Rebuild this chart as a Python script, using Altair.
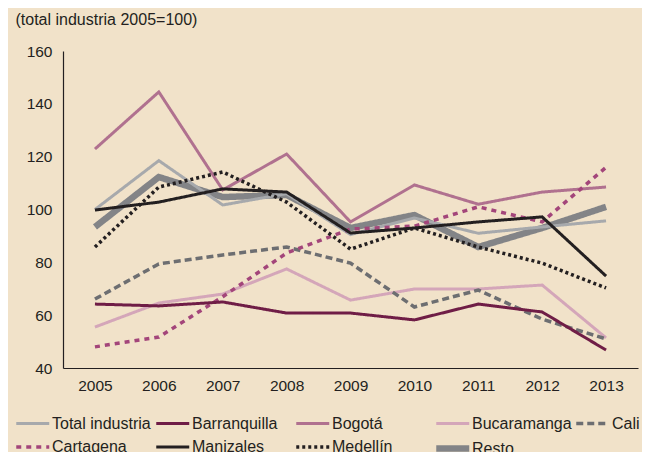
import altair as alt
import pandas as pd

years = ["2005", "2006", "2007", "2008", "2009", "2010", "2011", "2012", "2013"]

total_industria = [100.0, 118.5, 101.7, 106.0, 90.5, 96.8, 91.0, 93.4, 95.7]
barranquilla = [64.2, 63.5, 65.0, 60.8, 60.8, 58.2, 64.2, 61.2, 46.8]
bogota = [122.9, 144.5, 107.4, 121.0, 95.3, 109.3, 102.0, 106.6, 108.5]
bucaramanga = [55.5, 64.6, 68.0, 77.5, 65.7, 69.9, 69.9, 71.4, 51.4]
cali = [66.1, 79.4, 82.8, 85.8, 79.7, 63.1, 69.5, 58.5, 51.0]
cartagena = [48.0, 51.7, 67.0, 83.5, 92.6, 93.7, 101.0, 95.3, 116.0]
manizales = [99.8, 102.8, 107.8, 106.6, 91.1, 93.0, 95.3, 97.2, 74.8]
medellin = [85.8, 108.5, 114.2, 102.8, 85.0, 93.0, 85.8, 79.7, 70.3]
resto = [93.4, 112.3, 104.7, 105.5, 93.0, 97.9, 85.8, 93.0, 101.0]

legend_order = ["Total industria", "Barranquilla", "Bogotá", "Bucaramanga", "Cali",
                "Cartagena", "Manizales", "Medellín", "Resto"]
series_values = {
    "Total industria": total_industria,
    "Barranquilla": barranquilla,
    "Bogotá": bogota,
    "Bucaramanga": bucaramanga,
    "Cali": cali,
    "Cartagena": cartagena,
    "Manizales": manizales,
    "Medellín": medellin,
    "Resto": resto,
}
# drawing order (bottom to top)
draw_order = ["Resto", "Total industria", "Bucaramanga", "Bogotá", "Cali",
              "Cartagena", "Barranquilla", "Medellín", "Manizales"]

colors = ["#a7a9ac", "#6f1d46", "#b0718f", "#d4a6b9", "#6d6e71",
          "#a3457a", "#231f20", "#231f20", "#838487"]
dashes = [[1, 0], [1, 0], [1, 0], [1, 0], [7, 4],
          [5, 5], [1, 0], [3, 3], [1, 0]]
widths = [3, 3, 3, 3, 3.5, 3.5, 3, 3.5, 6.5]

rows = []
for name in draw_order:
    for y, v in zip(years, series_values[name]):
        rows.append({"year": y, "valor": v, "serie": name})
df = pd.DataFrame(rows)

FONT = "Liberation Sans"
INK = "#231f20"

legend = alt.Legend(
    title=None, orient="none", legendX=-50, legendY=359,
    direction="horizontal", columns=5, symbolType="M-1,0H3", symbolSize=272,
    labelFont=FONT, labelFontSize=16, labelColor=INK, columnPadding=-9,
    rowPadding=0, labelOffset=16, gridAlign="all",
)

chart = alt.Chart(df).mark_line().encode(
    x=alt.X("year:O", sort=years,
            scale=alt.Scale(type="band", paddingInner=0, paddingOuter=0),
            axis=alt.Axis(title=None, labelAngle=0, tickBand="extent", tickSize=0,
                          labelPadding=10, labelFont=FONT, labelFontSize=15.5,
                          labelColor=INK, domainColor=INK, domainWidth=1.2,
                          grid=False)),
    y=alt.Y("valor:Q",
            scale=alt.Scale(domain=[40, 160], nice=False, zero=False),
            axis=alt.Axis(title="(total industria 2005=100)", titleAngle=0,
                          titleAlign="left", titleBaseline="alphabetic",
                          titleX=-48, titleY=-27, titleFont=FONT,
                          titleFontSize=16, titleFontWeight="normal", titleColor=INK,
                          values=[40, 60, 80, 100, 120, 140, 160], tickSize=0,
                          labelPadding=11, labelFont=FONT, labelFontSize=15.5,
                          labelColor=INK, domainColor=INK, domainWidth=1.2,
                          grid=False)),
    color=alt.Color("serie:N", scale=alt.Scale(domain=legend_order, range=colors),
                    legend=legend),
    strokeDash=alt.StrokeDash("serie:N",
                              scale=alt.Scale(type="ordinal", domain=legend_order, range=dashes),
                              legend=legend),
    strokeWidth=alt.StrokeWidth("serie:N",
                                scale=alt.Scale(type="ordinal", domain=legend_order, range=widths),
                                legend=legend),
    detail="serie:N",
).properties(
    width=575,
    height=317,
    background="#f1e2c9",
    autosize=alt.AutoSizeParams(type="none"),
    padding={"left": 55, "top": 43, "right": 4, "bottom": 92},
).configure_view(stroke=None)

chart.save("out.html", embed_options={"renderer": "svg", "actions": False})
